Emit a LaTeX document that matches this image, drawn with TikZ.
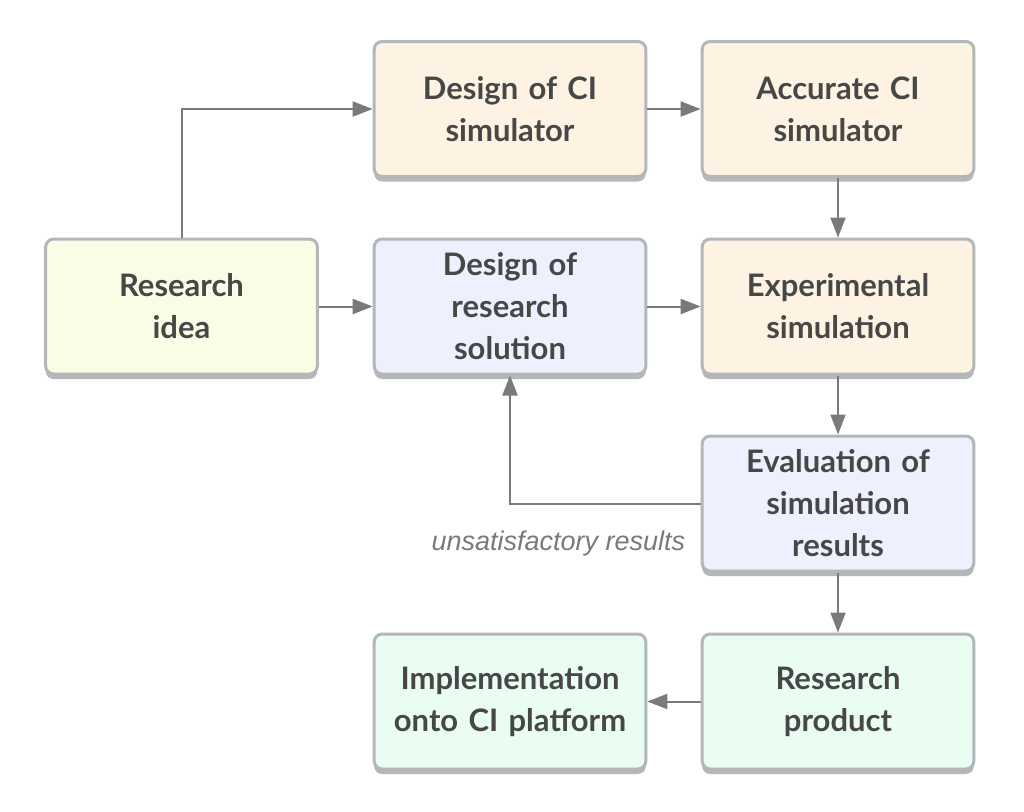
\documentclass[tikz,border=0pt]{standalone}
\usepackage{fontspec}
\setmainfont{Lato}
\newfontfamily\lblfont{Liberation Sans}
\usetikzlibrary{shadows,arrows.meta}
\definecolor{bordergray}{HTML}{B2B7BA}
\definecolor{arrowgray}{HTML}{7A7A7A}
\definecolor{txtgray}{HTML}{474747}
\definecolor{fillyel}{HTML}{FAFDE6}
\definecolor{fillora}{HTML}{FEF3E2}
\definecolor{fillblu}{HTML}{EEF1FD}
\definecolor{fillgrn}{HTML}{EAFDF3}
\tikzset{
  box/.style={draw=bordergray, line width=3pt, rounded corners=8pt,
    minimum width=271pt, minimum height=135pt, text width=265pt, align=center,
    text=txtgray, font=\fontsize{31}{42}\selectfont\bfseries,
    drop shadow={shadow xshift=0pt, shadow yshift=-5pt, fill=black!40, opacity=0.7}},
  yelbox/.style={box, fill=fillyel},
  orabox/.style={box, fill=fillora},
  blubox/.style={box, fill=fillblu},
  grnbox/.style={box, fill=fillgrn},
  conn/.style={draw=arrowgray, line width=2pt,
    -{Triangle[length=20pt, width=15pt]}},
}
\begin{document}
\begin{tikzpicture}[x=1pt,y=-1pt]
\useasboundingbox[fill=white] (0,0) rectangle (1024,811);
\node[yelbox] (idea) at (181.5,306.5) {Research\\idea};
\node[orabox] (dci) at (510,109) {Design of CI\\simulator};
\node[orabox] (acc) at (838,109) {Accurate CI\\simulator};
\node[blubox] (drs) at (510,306.5) {Design of\\research\\solution};
\node[orabox] (exp) at (838,306.5) {Experimental\\simulation};
\node[blubox] (eval) at (838,503.5) {Evaluation of\\simulation\\results};
\node[grnbox] (prod) at (838,701.5) {Research\\product};
\node[grnbox] (impl) at (510,701.5) {Implementation\\onto CI platform};
\node[anchor=east, text=arrowgray, font=\lblfont\itshape\fontsize{27}{30}\selectfont]
  (lbl) at ([xshift=-12pt,yshift=-40pt]eval.west) {unsatisfactory results};
\draw[conn] (idea.north) |- (dci.west);
\draw[conn] (idea.east) -- (drs.west);
\draw[conn] (dci.east) -- (acc.west);
\draw[conn] (acc.south) -- (exp.north);
\draw[conn] (drs.east) -- (exp.west);
\draw[conn] (exp.south) -- (eval.north);
\draw[conn] (eval.west) -| (drs.south);
\draw[conn] (eval.south) -- (prod.north);
\draw[conn] (prod.west) -- (impl.east);
\end{tikzpicture}
\end{document}
